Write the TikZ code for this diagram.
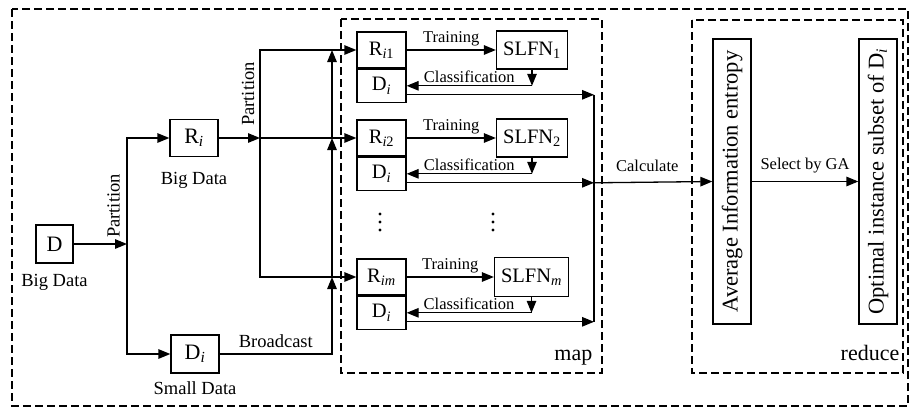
\documentclass[tikz,border=0pt]{standalone}
\usepackage{fontspec}
\setmainfont{Liberation Serif}
\usetikzlibrary{arrows.meta,calc}
\begin{document}
\begin{tikzpicture}[x=1pt,y=-1pt,
  line width=1.3pt,
  box/.style={draw, inner sep=0pt, font=\fontsize{22}{24}\selectfont},
  rowbox/.style={draw, inner sep=0pt, font=\fontsize{20.5}{22}\selectfont},
  tallbox/.style={draw, inner sep=0pt, rotate=90, minimum width=285pt,
    minimum height=38pt, font=\fontsize{22.5}{24}\selectfont},
  arr/.style={-{Triangle[length=12pt,width=9.5pt]}},
  zone/.style={draw, dash pattern=on 8pt off 4pt, line width=1.2pt},
  biglbl/.style={font=\fontsize{18.5}{20}\selectfont, inner sep=0pt},
  smllbl/.style={font=\fontsize{16.5}{18}\selectfont, inner sep=0pt},
  zonelbl/.style={font=\fontsize{22}{24}\selectfont, inner sep=0pt},
  dot/.style={fill, circle, inner sep=0pt, minimum size=3.2pt},
]
\useasboundingbox (0,0) rectangle (909,407);

% dashed frames: whole job, map stage, reduce stage
\draw[zone] (12,9) rectangle (908,406);
\draw[zone] (341,19) rectangle (602,373);
\draw[zone] (692,20) rectangle (903,373);
\node[zonelbl, anchor=base east] (maplbl) at (593,360) {map};
\node[zonelbl, anchor=base east] (redlbl) at (900,360) {reduce};

% input data
\node[box, minimum width=37pt, minimum height=38pt] (D) at (54.5,244) {D};
\node[biglbl, below=10pt] (Dlbl) at (D.south) {Big Data};
\node[box, minimum width=48pt, minimum height=37pt] (Ri) at (194,138) {R\textsubscript{\textit{i}}};
\node[biglbl, below=14pt] (Rilbl) at (Ri.south) {Big Data};
\node[box, minimum width=48pt, minimum height=38pt] (Ds) at (195,354) {D\textsubscript{\textit{i}}};
\node[biglbl, below=7pt] (Dslbl) at (Ds.south) {Small Data};

% map workers
\node[rowbox, minimum width=49pt, minimum height=36pt] (R1) at (381.5,50) {R\textsubscript{\textit{i}1}};
\node[rowbox, minimum width=49pt, minimum height=33pt, anchor=north] (P1) at (R1.south) {D\textsubscript{\textit{i}}};
\node[rowbox, minimum width=49pt, minimum height=36pt] (R2) at (381.5,138) {R\textsubscript{\textit{i}2}};
\node[rowbox, minimum width=49pt, minimum height=33pt, anchor=north] (P2) at (R2.south) {D\textsubscript{\textit{i}}};
\node[rowbox, minimum width=49pt, minimum height=36pt] (Rm) at (381.5,277) {R\textsubscript{\textit{im}}};
\node[rowbox, minimum width=49pt, minimum height=33pt, anchor=north] (Pm) at (Rm.south) {D\textsubscript{\textit{i}}};

\node[rowbox, minimum width=71pt, minimum height=38pt] (S1) at (532,50) {SLFN\textsubscript{1}};
\node[rowbox, minimum width=71pt, minimum height=38pt] (S2) at (532,138) {SLFN\textsubscript{2}};
\node[rowbox, minimum width=74pt, minimum height=39pt] (Sm) at (531.5,277) {SLFN\textsubscript{\textit{m}}};

% vertical ellipses between worker 2 and worker m
\foreach \x/\n in {380/a,493/b}{
  \node[dot] (e\n1) at (\x,214) {};
  \node[dot] (e\n2) at (\x,222) {};
  \node[dot] (e\n3) at (\x,230) {};
}

% reduce stage
\node[tallbox] (A) at (732,181.5) {Average Information entropy};
\node[tallbox] (O) at (878,181.5) {Optimal instance subset of D\textsubscript{\textit{i}}};

% helper points
\coordinate (j1) at (127,244);
\coordinate (j2) at (260,138);
\coordinate (bc) at (332,0);
\coordinate (col) at (594,0);

% partition of the big data set
\draw[arr] (D) -- (j1);
\draw[arr] (j1) |- (Ri);
\draw[arr] (j1) |- (Ds);
\node[biglbl, rotate=90] (part1) at (113.5,206) {Partition};

\draw[arr] (Ri) -- (j2);
\draw[arr] (j2) |- (R1);
\draw[arr] (j2) -- (R2);
\draw[arr] (j2) |- (Rm);
\node[biglbl, rotate=90] (part2) at (248,94) {Partition};

% broadcast of the small data set
\draw[arr] (Ds) -| (bc |- Rm);
\draw[arr] (bc |- Rm) -- (bc |- R2);
\draw[arr] (bc |- R2) -- (bc |- R1);
\node[biglbl, above=6pt] (bclbl) at ($(Ds.east)!0.5!(bc |- Ds)$) {Broadcast};

% training and classification in each worker
\foreach \k in {1,2,m}{
  \draw[arr] (R\k) -- node[smllbl, above=3pt] (tr\k) {Training} (S\k);
  \draw[arr] (S\k.south) -- (S\k.south |- P\k.east);
  \draw[arr] (S\k.south |- P\k.east) -- node[smllbl, above=2.5pt] (cl\k) {Classification} (P\k.east);
  \coordinate (o\k) at ($(P\k.east)+(0,9)$);
  \draw[arr] (o\k) -- (o\k -| col);
}
\draw (o1 -| col) -- (om -| col);

% reduce
\draw[arr] (o2 -| col) -- node[smllbl, pos=0.45, above=10pt] (calc) {Calculate} (A.north);
\draw[arr] (A.south) -- node[smllbl, above=8pt] (ga) {Select by GA} (O.north);
\end{tikzpicture}
\end{document}
